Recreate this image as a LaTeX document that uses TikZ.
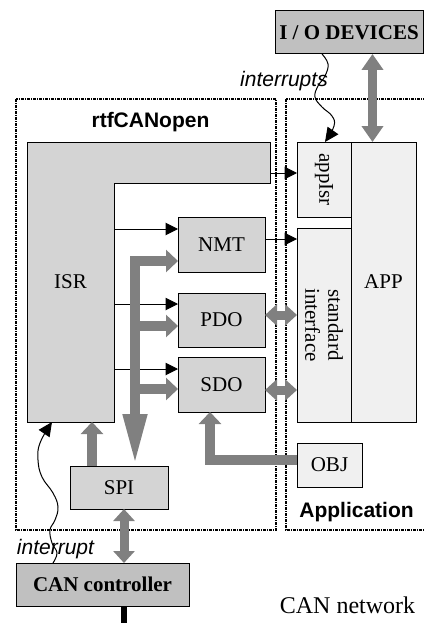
\documentclass[tikz,border=0pt]{standalone}
\usepackage{fontspec}
\setmainfont{Liberation Serif}
\newfontfamily\arialf{Liberation Sans}
\usetikzlibrary{arrows.meta}
\definecolor{dgray}{RGB}{192,192,192}
\definecolor{mgray}{RGB}{212,212,212}
\definecolor{lgray}{RGB}{240,240,240}
\definecolor{argray}{RGB}{128,128,128}
\begin{document}
\begin{tikzpicture}[x=1pt,y=-1pt,
  lbl/.style={font=\fontsize{21}{23}\selectfont},
  blk/.style={draw, line width=1pt, inner sep=0pt, outer sep=0pt, lbl},
  dk/.style={blk, fill=dgray},
  md/.style={blk, fill=mgray},
  lt/.style={blk, fill=lgray},
  frame/.style={line width=1.3pt, dash pattern=on 3pt off 1pt on 1pt off 1pt},
  barr/.style={line width=1pt, -{Triangle[length=12.5pt,width=12.5pt]}},
  wavy/.style={line width=1pt, -{Triangle[length=14pt,width=13pt]}},
  garr/.style={draw=argray, line width=10pt, line join=miter, -{Triangle[length=12pt,width=22pt]}},
  gdbl/.style={draw=argray, line width=9pt, {Triangle[length=12pt,width=21pt]}-{Triangle[length=12pt,width=21pt]}},
  gdbll/.style={draw=argray, line width=9pt, {Triangle[length=16pt,width=21pt]}-{Triangle[length=16pt,width=21pt]}},
  sanslbl/.style={font=\arialf\bfseries\fontsize{21}{23}\selectfont},
  itlbl/.style={font=\arialf\itshape\fontsize{21}{23}\selectfont}
]
\useasboundingbox (0,0) rectangle (423,623);

% frames
\draw[frame] (16,99) rectangle (276,530);
\draw[frame] (286,99) rectangle (432,530);

% top box
\node[dk, minimum width=148pt, minimum height=43pt, font=\bfseries\fontsize{21}{23}\selectfont] (io) at (349,32.5) {I / O DEVICES};

% labels
\node[sanslbl, anchor=base] (rtf) at (150.5,128) {rtfCANopen};
\node[sanslbl, anchor=base] (appl) at (356.5,517) {Application};
\node[itlbl, anchor=base] (ints) at (284,87) {interrupts};
\node[itlbl, anchor=base] (int) at (55.5,554) {interrupt};
\node[font=\fontsize{24}{26}\selectfont] (net) at (347.5,605) {CAN network};

% ISR L-shape
\filldraw[fill=mgray, line width=1pt] (27,142) -- (270,142) -- (270,183) -- (114,183) -- (114,422) -- (27,422) -- cycle;
\node[lbl, inner sep=0pt, outer sep=0pt, minimum width=87pt, minimum height=280pt] (isr) at (70.5,282) {ISR};

% application boxes
\node[lt, minimum width=65pt, minimum height=280pt] (app) at (383.5,282) {APP};
\node[lt, minimum width=54pt, minimum height=75pt] (appisr) at (324,179.5) {};
\node[lbl, rotate=-90] at (appisr) {appIsr};
\node[lt, minimum width=54pt, minimum height=194pt] (si) at (324,325) {};
\node[lbl, rotate=-90, align=center] at (si) {standard\\interface};
\node[lt, minimum width=65pt, minimum height=44pt] (obj) at (329.5,465) {OBJ};

% protocol boxes
\node[md, minimum width=87pt, minimum height=55pt] (nmt) at (221.5,244.5) {NMT};
\node[md, minimum width=87pt, minimum height=54pt] (pdo) at (221.5,320) {PDO};
\node[md, minimum width=87pt, minimum height=55pt] (sdo) at (221.5,384.5) {SDO};
\node[md, minimum width=98pt, minimum height=43pt] (spi) at (119,487.5) {SPI};
\node[dk, minimum width=173pt, minimum height=43pt, font=\bfseries\fontsize{21}{23}\selectfont] (can) at (102.5,584.5) {CAN controller};

% black arrows
\draw[barr] (270,173) -- (appisr.west |- 0,173);
\draw[barr] (isr.east |- 0,229) -- (nmt.west |- 0,229);
\draw[barr] (isr.east |- 0,304) -- (pdo.west |- 0,304);
\draw[barr] (isr.east |- 0,369) -- (sdo.west |- 0,369);
\draw[barr] (nmt.east |- 0,239) -- (si.west |- 0,239);

% gray bus
\draw[draw=argray, line width=10pt, line join=miter, {Triangle[length=12pt,width=22pt]}-{Triangle[length=52pt,width=22pt]}]
  (nmt.west |- 0,261) -- (135,261) -- (spi.north -| 135,0);
\draw[garr] (135,326) -- (pdo.west |- 0,326);
\draw[garr] (135,389) -- (sdo.west |- 0,389);
\draw[garr] (spi.north -| 92,0) -- (isr.south -| 92,0);
\draw[garr] (obj.west |- 0,460) -- (210,460) -- (sdo.south -| 210,0);
\draw[gdbl] (pdo.east |- 0,315) -- (si.west |- 0,315);
\draw[gdbl] (sdo.east |- 0,390) -- (si.west |- 0,390);
\draw[gdbl] (spi.south -| 124,0) -- (can.north -| 124,0);
\draw[gdbll] (io.south -| 372.5,0) -- (app.north -| 372.5,0);

% network line
\coordinate (netend) at (124,623);
\draw[line width=6pt] (can.south -| 124,0) -- (netend);

% wavy interrupt lines
\coordinate (w1) at (io.south -| 322,0);
\coordinate (w2) at (appisr.north -| 325,0);
\draw[wavy] plot[smooth, tension=0.7] coordinates {(w1) (328,64) (325,76) (318,86) (315,97) (322,107) (332,116) (334,126) (w2)};
\coordinate (v1) at (can.north -| 53,0);
\coordinate (v2) at (isr.south -| 52,0);
\draw[wavy] plot[smooth, tension=0.7] coordinates {(v1) (57,553) (52,543) (50,530) (55,520) (58,507) (53,493) (42,477) (38,460) (40,443) (v2)};
\end{tikzpicture}
\end{document}
